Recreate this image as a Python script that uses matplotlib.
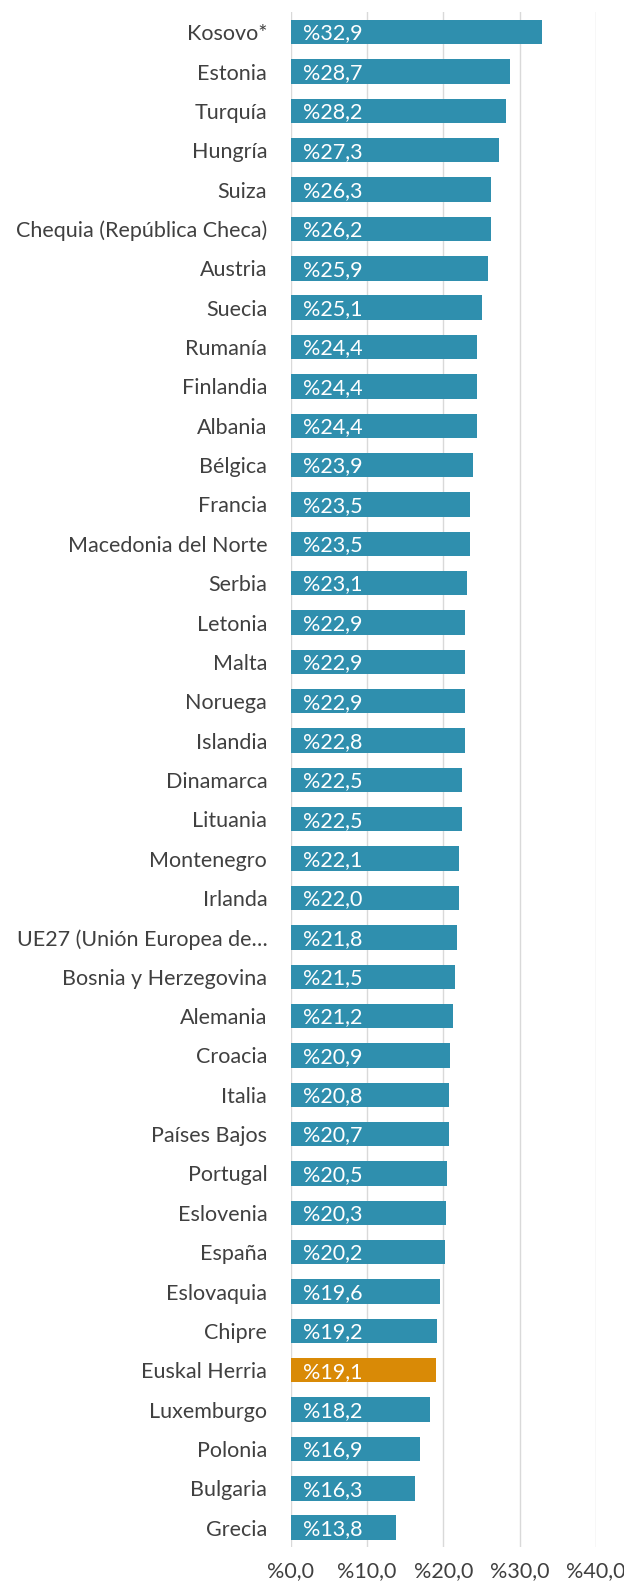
import matplotlib
matplotlib.use("Agg")
import matplotlib.pyplot as plt
import numpy as np

plt.rcParams['font.family'] = ['Lato', 'DejaVu Sans']

countries = ["Kosovo*", "Estonia", "Turquía", "Hungría", "Suiza",
             "Chequia (República Checa)", "Austria", "Suecia", "Rumanía",
             "Finlandia", "Albania", "Bélgica", "Francia", "Macedonia del Norte",
             "Serbia", "Letonia", "Malta", "Noruega", "Islandia", "Dinamarca",
             "Lituania", "Montenegro", "Irlanda", "UE27 (Unión Europea de…",
             "Bosnia y Herzegovina", "Alemania", "Croacia", "Italia",
             "Países Bajos", "Portugal", "Eslovenia", "España", "Eslovaquia",
             "Chipre", "Euskal Herria", "Luxemburgo", "Polonia", "Bulgaria",
             "Grecia"]
values = [32.9, 28.7, 28.2, 27.3, 26.3, 26.2, 25.9, 25.1, 24.4, 24.4, 24.4,
          23.9, 23.5, 23.5, 23.1, 22.9, 22.9, 22.9, 22.8, 22.5, 22.5, 22.1,
          22.0, 21.8, 21.5, 21.2, 20.9, 20.8, 20.7, 20.5, 20.3, 20.2, 19.6,
          19.2, 19.1, 18.2, 16.9, 16.3, 13.8]
highlight = "Euskal Herria"
xticks = [0, 10, 20, 30, 40]

blue = "#2f8fae"
orange = "#d98a06"
colors = [orange if c == highlight else blue for c in countries]

def pct(v):
    return "%" + f"{v:.1f}".replace(".", ",")

fig = plt.figure(figsize=(6.24, 15.82), dpi=100)
ax = fig.add_axes([0.466, 0.0219, 0.489, 0.9702])

y = np.arange(len(countries))
ax.barh(y, values, height=0.62, color=colors, zorder=3)
for yi, v in zip(y, values):
    ax.annotate(pct(v), (0, yi), xytext=(9, -1), textcoords="offset points",
                ha="left", va="center", color="white", fontsize=15.5, zorder=4)

ax.set_ylim(len(countries) - 0.5, -0.5)
ax.set_xlim(0, 40)
ax.set_yticks(y)
ax.set_yticklabels(countries)
ax.set_xticks(xticks)
ax.set_xticklabels([pct(t) for t in xticks])
ax.tick_params(axis="y", length=0, pad=17, labelsize=15.5, labelcolor="#404040")
ax.tick_params(axis="x", length=0, pad=10, labelsize=15.5, labelcolor="#404040")
ax.grid(axis="x", color="#d9d9d9", linewidth=1, zorder=0)
for s in ax.spines.values():
    s.set_visible(False)

fig.savefig("out.png", dpi=100)
